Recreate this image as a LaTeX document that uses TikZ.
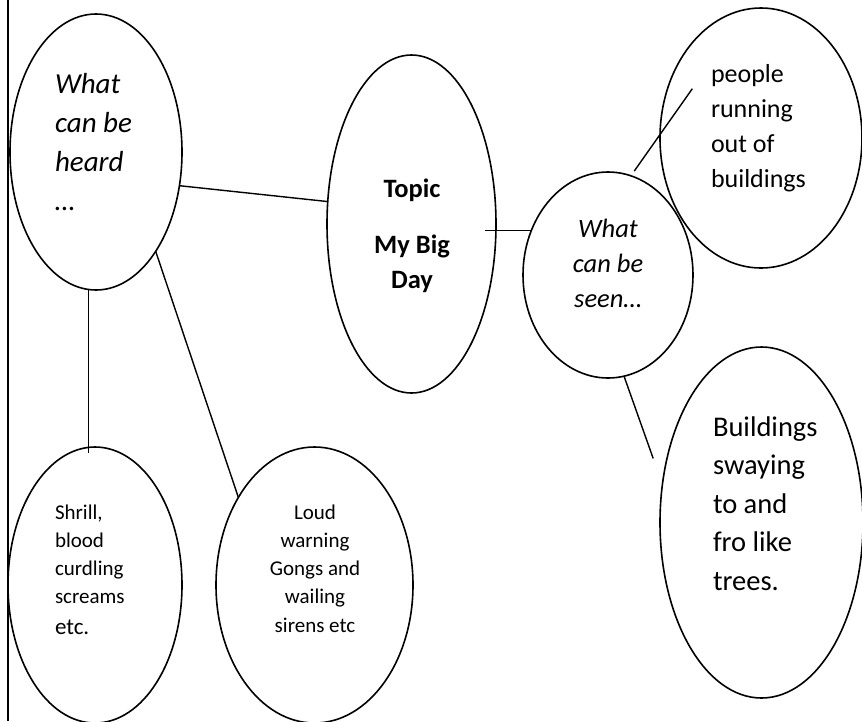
\documentclass[tikz,border=0pt]{standalone}
\usepackage{fontspec}
\setmainfont{Carlito}
\usetikzlibrary{shapes.geometric}
\begin{document}
\begin{tikzpicture}[x=1pt,y=-1pt,
  bubble/.style={ellipse, draw, line width=1.6pt, inner sep=0pt, outer sep=0pt},
  link/.style={line width=1.4pt},
  words/.style={inner sep=0pt, outer sep=0pt}]
\useasboundingbox (0,0) rectangle (862,721);

% page margin rule on the left
\draw[line width=1.6pt] (8,0) -- (8,721);

% bubbles
\node[bubble, minimum width=172pt, minimum height=276pt] (heard) at (96,152) {};
\node[bubble, minimum width=169pt, minimum height=338pt] (topic) at (411.5,224) {};
\node[bubble, minimum width=170pt, minimum height=206pt] (seen) at (608,275) {};
\node[bubble, minimum width=202pt, minimum height=260pt] (people) at (761,138) {};
\node[bubble, minimum width=203pt, minimum height=351pt] (buildings) at (761.5,522.5) {};
\node[bubble, minimum width=174pt, minimum height=276pt] (shrill) at (95,585) {};
\node[bubble, minimum width=197pt, minimum height=276pt] (loud) at (314.5,585) {};

% texts
\node[words, anchor=base west, font=\itshape\fontsize{29}{39}\selectfont] (heardtxt) at (55,93)
  {\begin{tabular}[t]{@{}l@{}}What\\can be\\heard\\…\end{tabular}};
\node[words, anchor=base, font=\bfseries\fontsize{26.5}{35}\selectfont] (topictxt) at (412,197)
  {\begin{tabular}[t]{@{}c@{}}Topic\\[21pt]My Big\\Day\end{tabular}};
\node[words, anchor=base, font=\itshape\fontsize{26.5}{35}\selectfont] (seentxt) at (608,237)
  {\begin{tabular}[t]{@{}c@{}}What\\can be\\seen…\end{tabular}};
\node[words, anchor=base west, font=\fontsize{26}{35}\selectfont] (peopletxt) at (711,82)
  {\begin{tabular}[t]{@{}l@{}}people\\running\\out of\\buildings\end{tabular}};
\node[words, anchor=base west, font=\fontsize{28.5}{38.5}\selectfont] (buildingstxt) at (713,436)
  {\begin{tabular}[t]{@{}l@{}}Buildings\\swaying\\to and\\fro like\\trees.\end{tabular}};
\node[words, anchor=base west, font=\fontsize{21}{28}\selectfont] (shrilltxt) at (55,519)
  {\begin{tabular}[t]{@{}l@{}}Shrill,\\blood\\curdling\\screams\\[3pt]{\fontsize{23}{28}\selectfont etc.}\end{tabular}};
\node[words, anchor=base, font=\fontsize{21}{28.3}\selectfont] (loudtxt) at (315,519)
  {\begin{tabular}[t]{@{}c@{}}Loud\\warning\\Gongs and\\wailing\\sirens etc\end{tabular}};

% connectors
\draw[link] (heard.-22.4) -- (topic.165.2);
\draw[link] (heard.-59) -- (loud.131.3);
\draw[link, shorten >=-6pt] (heard.-93) -- (heard.-93 |- shrill.north);
\draw[link, shorten <=-11pt] (seen.150.3 -| topic.east) -- (seen.150.3);
\draw[link, shorten <=5.8pt, shorten >=-56pt] (seen.77.2) -- (people.178.5);
\draw[link, shorten >=27.7pt] (seen.-81) -- (buildings.159.9);
\end{tikzpicture}
\end{document}
